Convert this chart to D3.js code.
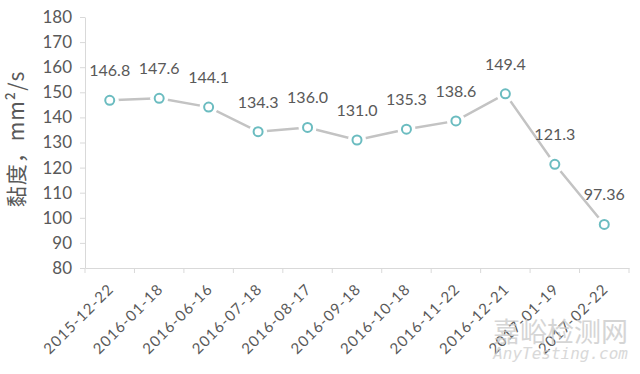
<!DOCTYPE html>
<html><head><meta charset="utf-8">
<script src="https://cdn.jsdelivr.net/npm/d3@7"></script>
<style>body{margin:0;background:#fff}svg{display:block}</style>
</head><body>
<svg id="c" width="640" height="374"></svg>
<script>
const categories = ["2015-12-22","2016-01-18","2016-06-16","2016-07-18","2016-08-17","2016-09-18","2016-10-18","2016-11-22","2016-12-21","2017-01-19","2017-02-22"];
const values = [146.8,147.6,144.1,134.3,136.0,131.0,135.3,138.6,149.4,121.3,97.36];
const valueLabels = ["146.8","147.6","144.1","134.3","136.0","131.0","135.3","138.6","149.4","121.3","97.36"];
const yTicks = [80,90,100,110,120,130,140,150,160,170,180];
const yTitle = "黏度，mm²/s";

(function(){
const svg = d3.select("#c");
const font = "Lato, 'DejaVu Sans', sans-serif";
const mLeft = 85, mRight = 629, mTop = 17, mBottom = 268;
const x = d3.scaleBand().domain(categories).range([mLeft, mRight]);
const y = d3.scaleLinear().domain([80, 180]).range([mBottom, mTop]);

// y axis
const ya = svg.append("g").attr("transform", `translate(${mLeft},0)`)
  .call(d3.axisLeft(y).tickValues(yTicks).tickSize(5).tickPadding(8).tickSizeOuter(0));
ya.select(".domain").attr("stroke", "#d9d9d9");
ya.selectAll(".tick line").attr("stroke", "#d9d9d9");
ya.selectAll("text").attr("fill", "#595959").style("font-family", font).style("font-size", "17px");

// x axis
const xa = svg.append("g").attr("transform", `translate(0,${mBottom})`)
  .call(d3.axisBottom(x).tickSize(0).tickSizeOuter(0));
xa.select(".domain").attr("stroke", "#d9d9d9");
xa.selectAll(".tick line").remove();
const bounds = categories.map(c => x(c)).concat([x(categories[categories.length-1]) + x.bandwidth()]);
xa.selectAll(".btick").data(bounds).join("line").attr("class","btick")
  .attr("x1", d => d).attr("x2", d => d).attr("y1", 0).attr("y2", 5).attr("stroke", "#d9d9d9");
xa.selectAll(".tick text")
  .attr("fill", "#595959").style("font-family", font).style("font-size", "15px")
  .style("letter-spacing", "1.1px")
  .attr("text-anchor", "end").attr("x", 0).attr("y", 0).attr("dx", 0).attr("dy", 0)
  .attr("transform", "translate(5,22) rotate(-45)");

// y title
svg.append("text").attr("transform", `translate(24,139) rotate(-90)`)
  .attr("text-anchor", "middle").attr("fill", "#595959")
  .style("font-family", "'Noto Sans CJK SC', " + font).style("font-size", "21px")
  .style("letter-spacing", "1px").text(yTitle);

const cx = d => x(d) + x.bandwidth() / 2;
const pts = categories.map((c, i) => ({c, v: values[i], l: valueLabels[i]}));

svg.append("path").datum(pts)
  .attr("d", d3.line().x(d => cx(d.c)).y(d => y(d.v)))
  .attr("fill", "none").attr("stroke", "#c3c3c3").attr("stroke-width", 2.5);

svg.selectAll(".halo").data(pts).join("circle").attr("class","halo")
  .attr("cx", d => cx(d.c)).attr("cy", d => y(d.v)).attr("r", 9).attr("fill", "#fff");
svg.selectAll(".mk").data(pts).join("circle").attr("class","mk")
  .attr("cx", d => cx(d.c)).attr("cy", d => y(d.v)).attr("r", 4.5)
  .attr("fill", "#fff").attr("stroke", "#6bbcc0").attr("stroke-width", 2);

svg.selectAll(".lbl").data(pts).join("text").attr("class","lbl")
  .attr("x", d => cx(d.c)).attr("y", d => y(d.v) - 24)
  .attr("text-anchor", "middle").attr("fill", "#595959")
  .style("font-family", font).style("font-size", "16px").text(d => d.l);

svg.append("text").attr("x", 628).attr("y", 342).attr("text-anchor", "end")
  .attr("fill", "#c8c8c8").attr("opacity", 0.75)
  .style("font-family", "'Noto Sans CJK SC', sans-serif").style("font-size", "27px").text("嘉峪检测网");
svg.append("text").attr("x", 628).attr("y", 359).attr("text-anchor", "end")
  .attr("fill", "#d0d0d0").attr("opacity", 0.8).style("font-style", "italic")
  .style("font-family", "'DejaVu Sans Mono', monospace").style("font-size", "16px").text("AnyTesting.com");
})();
</script>
</body></html>
